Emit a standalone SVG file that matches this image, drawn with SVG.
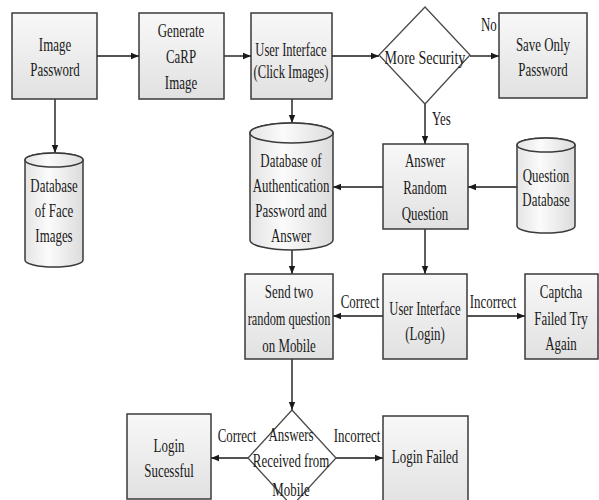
<svg xmlns="http://www.w3.org/2000/svg" width="599" height="500" viewBox="0 0 599 500">
<defs>
<linearGradient id="g" x1="0" y1="0" x2="0" y2="1">
<stop offset="0" stop-color="#f8f8f8"/>
<stop offset="1" stop-color="#e1e1e1"/>
</linearGradient>
<linearGradient id="gc" x1="0" y1="0" x2="1" y2="0">
<stop offset="0" stop-color="#e4e4e4"/>
<stop offset="0.4" stop-color="#fbfbfb"/>
<stop offset="1" stop-color="#dcdcdc"/>
</linearGradient>
<marker id="ah" viewBox="0 0 10 10" refX="10" refY="5" markerWidth="9" markerHeight="8" markerUnits="userSpaceOnUse" orient="auto">
<path d="M0,1 L10,5 L0,9 z" fill="#1a1a1a"/>
</marker>
</defs>
<style>
.box{fill:url(#g);stroke:#3a3a3a;stroke-width:1.5}
.cyl{fill:url(#gc);stroke:#3a3a3a;stroke-width:1.5}
.dia{fill:#fff;stroke:#4a4a4a;stroke-width:1.3}
text{font-family:"Liberation Serif","Times New Roman",serif;font-size:19px;fill:#1a1a1a;text-anchor:middle}
.lbl{text-anchor:start}
.c line{stroke:#1a1a1a;stroke-width:1.4;marker-end:url(#ah)}
</style>
<rect width="599" height="500" fill="#fff"/>

<g class="c" id="connectors">
<line x1="97" y1="56" x2="139" y2="56"/>
<line x1="224" y1="56" x2="251" y2="56"/>
<line x1="332" y1="56" x2="379" y2="56"/>
<line x1="470" y1="56" x2="499" y2="56"/>
<line x1="55" y1="99" x2="55" y2="153"/>
<line x1="292" y1="99" x2="292" y2="123"/>
<line x1="425" y1="104" x2="425" y2="144"/>
<line x1="383" y1="187" x2="333" y2="187"/>
<line x1="517" y1="187" x2="468" y2="187"/>
<line x1="292" y1="250" x2="292" y2="274"/>
<line x1="425" y1="229" x2="425" y2="274"/>
<line x1="383" y1="316" x2="333" y2="316"/>
<line x1="467" y1="316" x2="525" y2="316"/>
<line x1="292" y1="359" x2="292" y2="410"/>
<line x1="248" y1="458" x2="211" y2="458"/>
<line x1="336" y1="458" x2="383" y2="458"/>
<text class="lbl" transform="translate(481,31) scale(0.68,1)">No</text>
<text class="lbl" transform="translate(432,125) scale(0.68,1)">Yes</text>
<text transform="translate(360,308) scale(0.68,1)">Correct</text>
<text transform="translate(493,308) scale(0.68,1)">Incorrect</text>
<text transform="translate(237,442) scale(0.68,1)">Correct</text>
<text transform="translate(357,442) scale(0.68,1)">Incorrect</text>
</g>

<g id="image-password">
<rect class="box" x="12" y="13" width="85" height="86"/>
<text transform="translate(55,51) scale(0.68,1)">Image</text>
<text transform="translate(55,76) scale(0.68,1)">Password</text>
</g>

<g id="generate-carp">
<rect class="box" x="139" y="13" width="85" height="86"/>
<text transform="translate(181,37) scale(0.68,1)">Generate</text>
<text transform="translate(181,63) scale(0.68,1)">CaRP</text>
<text transform="translate(181,89) scale(0.68,1)">Image</text>
</g>

<g id="ui-click">
<rect class="box" x="251" y="13" width="81" height="86"/>
<text transform="translate(291,56) scale(0.66,1)">User Interface</text>
<text transform="translate(291,78) scale(0.66,1)">(Click Images)</text>
</g>

<g id="more-security">
<path class="dia" d="M425,7 L470,55 L425,104 L379,55 Z"/>
<text transform="translate(425,64) scale(0.74,1)">More Security</text>
</g>

<g id="save-only">
<rect class="box" x="499" y="13" width="88" height="85"/>
<text transform="translate(543,51) scale(0.68,1)">Save Only</text>
<text transform="translate(543,76) scale(0.68,1)">Password</text>
</g>

<g id="face-db">
<path class="cyl" d="M25,160 V260 A29,7 0 0 0 83,260 V160 A29,7 0 0 0 25,160 Z"/>
<ellipse class="cyl" cx="54" cy="160" rx="29" ry="7"/>
<text transform="translate(54,192) scale(0.68,1)">Database</text>
<text transform="translate(54,217) scale(0.68,1)">of Face</text>
<text transform="translate(54,242) scale(0.68,1)">Images</text>
</g>

<g id="auth-db">
<path class="cyl" d="M250,133 V240 A41.5,10 0 0 0 333,240 V133 A41.5,10 0 0 0 250,133 Z"/>
<ellipse class="cyl" cx="291.5" cy="133" rx="41.5" ry="10"/>
<text transform="translate(291,167) scale(0.68,1)">Database of</text>
<text transform="translate(291,192) scale(0.68,1)">Authentication</text>
<text transform="translate(291,217) scale(0.68,1)">Password and</text>
<text transform="translate(291,242) scale(0.68,1)">Answer</text>
</g>

<g id="answer-random">
<rect class="box" x="383" y="144" width="85" height="85"/>
<text transform="translate(425,167) scale(0.68,1)">Answer</text>
<text transform="translate(425,194) scale(0.68,1)">Random</text>
<text transform="translate(425,220) scale(0.68,1)">Question</text>
</g>

<g id="question-db">
<path class="cyl" d="M517,145 V226 A29,7 0 0 0 575,226 V145 A29,7 0 0 0 517,145 Z"/>
<ellipse class="cyl" cx="546" cy="145" rx="29" ry="7"/>
<text transform="translate(546,182) scale(0.68,1)">Question</text>
<text transform="translate(546,206) scale(0.68,1)">Database</text>
</g>

<g id="send-two">
<rect class="box" x="245" y="274" width="88" height="85"/>
<text transform="translate(289,298) scale(0.68,1)">Send two</text>
<text transform="translate(289,325) scale(0.65,1)">random question</text>
<text transform="translate(289,352) scale(0.68,1)">on Mobile</text>
</g>

<g id="ui-login">
<rect class="box" x="383" y="274" width="84" height="85"/>
<text transform="translate(425,315) scale(0.66,1)">User Interface</text>
<text transform="translate(425,340) scale(0.68,1)">(Login)</text>
</g>

<g id="captcha-failed">
<rect class="box" x="525" y="274" width="73" height="85"/>
<text transform="translate(561,298) scale(0.68,1)">Captcha</text>
<text transform="translate(561,325) scale(0.68,1)">Failed Try</text>
<text transform="translate(561,350) scale(0.68,1)">Again</text>
</g>

<g id="answers-received">
<path class="dia" d="M292,410 L336,458 L292,506 L248,458 Z"/>
<text transform="translate(291,441) scale(0.68,1)">Answers</text>
<text transform="translate(291,467) scale(0.68,1)">Received from</text>
<text transform="translate(291,496) scale(0.68,1)">Mobile</text>
</g>

<g id="login-success">
<rect class="box" x="127" y="414" width="84" height="85"/>
<text transform="translate(169,452) scale(0.68,1)">Login</text>
<text transform="translate(169,477) scale(0.68,1)">Sucessful</text>
</g>

<g id="login-failed">
<rect class="box" x="383" y="416" width="85" height="90"/>
<text transform="translate(425,463) scale(0.68,1)">Login Failed</text>
</g>
</svg>
